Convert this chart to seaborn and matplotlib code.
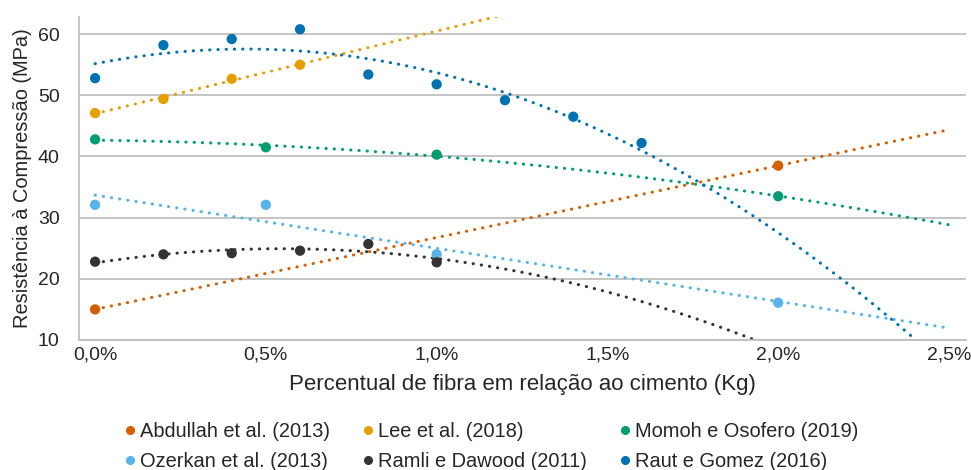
import seaborn as sns
import pandas as pd
import numpy as np
import matplotlib.pyplot as plt
from matplotlib.lines import Line2D
from matplotlib.ticker import FuncFormatter

# dados (% de fibra, resistencia MPa)
studies = ["Abdullah et al. (2013)", "Lee et al. (2018)", "Momoh e Osofero (2019)",
           "Ozerkan et al. (2013)", "Ramli e Dawood (2011)", "Raut e Gomez (2016)"]
colors = ["#D55E00", "#E69F00", "#029E73", "#56B4E9", "#333333", "#0173B2"]
fit_order = [1, 1, 2, 1, 2, 2]

abdullah_x = [0.0, 2.0]
abdullah_y = [15.0, 38.5]
lee_x = [0.0, 0.2, 0.4, 0.6]
lee_y = [47.1, 49.4, 52.7, 55.0]
momoh_x = [0.0, 0.5, 1.0, 2.0]
momoh_y = [42.8, 41.5, 40.3, 33.5]
ozerkan_x = [0.0, 0.5, 1.0, 2.0]
ozerkan_y = [32.1, 32.1, 24.0, 16.1]
ramli_x = [0.0, 0.2, 0.4, 0.6, 0.8, 1.0]
ramli_y = [22.8, 24.0, 24.2, 24.6, 25.7, 22.7]
raut_x = [0.0, 0.2, 0.4, 0.6, 0.8, 1.0, 1.2, 1.4, 1.6]
raut_y = [52.8, 58.2, 59.2, 60.8, 53.4, 51.8, 49.2, 46.5, 42.2]

xs = [abdullah_x, lee_x, momoh_x, ozerkan_x, ramli_x, raut_x]
ys = [abdullah_y, lee_y, momoh_y, ozerkan_y, ramli_y, raut_y]

pts = pd.concat([pd.DataFrame({"x": x, "y": y, "study": s}) for s, x, y in zip(studies, xs, ys)])

# linhas de tendencia (extrapoladas ate 2,5%)
xx = np.linspace(0, 2.5, 300)
trend = pd.concat([pd.DataFrame({"x": xx, "y": np.polyval(np.polyfit(x, y, o), xx), "study": s})
                   for s, x, y, o in zip(studies, xs, ys, fit_order)])

palette = dict(zip(studies, colors))

sns.set_style("white")
plt.rcParams['font.family'] = ['Liberation Sans', 'DejaVu Sans']

fig = plt.figure(figsize=(9.71, 4.70), dpi=100)
ax = fig.add_axes([0.0814, 0.2766, 0.9135, 0.6872])

sns.lineplot(data=trend, x="x", y="y", hue="study", palette=palette, ax=ax,
             legend=False, linewidth=2.2, dashes=False, zorder=2)
for ln in ax.get_lines():
    ln.set_dashes((0.1, 2.6))
    ln.set_dash_capstyle("round")

sns.scatterplot(data=pts, x="x", y="y", hue="study", palette=palette, ax=ax,
                legend=False, s=55, linewidth=0, zorder=3)

ax.set_xlim(-0.047, 2.55)
ax.set_ylim(10, 62.8)
ax.set_xticks([0, 0.5, 1.0, 1.5, 2.0, 2.5])
ax.set_yticks([10, 20, 30, 40, 50, 60])
ax.xaxis.set_major_formatter(FuncFormatter(lambda v, p: f"{v:.1f}%".replace(".", ",")))
ax.yaxis.grid(True, color="#BFBFBF", linewidth=1.3)
ax.set_axisbelow(True)
for sp in ["top", "right"]:
    ax.spines[sp].set_visible(False)
for sp in ["left", "bottom"]:
    ax.spines[sp].set_color("#BFBFBF")
    ax.spines[sp].set_linewidth(1.3)
ax.tick_params(axis="both", length=0, labelsize=14, colors="#262626")
ax.tick_params(axis="y", pad=14)
ax.tick_params(axis="x", pad=5)

ax.set_xlabel("Percentual de fibra em relação ao cimento (Kg)", fontsize=16, color="#262626", labelpad=7)
ax.set_ylabel("Resistência à Compressão (MPa)", fontsize=14.4, color="#262626", labelpad=4)

handles = [Line2D([], [], marker="o", linestyle="", color=c, markersize=5.5, label=s)
           for s, c in zip(studies, colors)]
order = [0, 3, 1, 4, 2, 5]
fig.legend([handles[i] for i in order], [studies[i] for i in order], ncol=3,
           loc="center", bbox_to_anchor=(0.504, 0.05), frameon=False, fontsize=14.4,
           handletextpad=0.05, columnspacing=1.45, handlelength=0.9, labelcolor="#262626",
           borderaxespad=0, labelspacing=0.55)

fig.savefig("out.png", dpi=100)
